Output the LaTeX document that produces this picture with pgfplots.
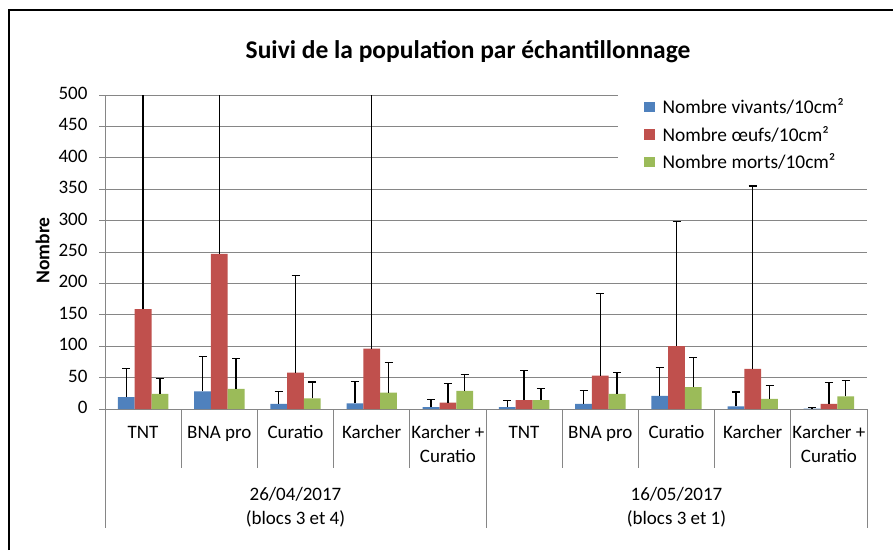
\documentclass[border=0pt]{standalone}
\usepackage{fontspec}
\setmainfont{Carlito}
\usepackage{pgfplots}
\usepackage{pgfplotstable}
\pgfplotsset{compat=1.18}
\definecolor{cblue}{RGB}{79,129,189}
\definecolor{cred}{RGB}{192,80,77}
\definecolor{cgreen}{RGB}{155,187,89}
\definecolor{gridgray}{RGB}{134,134,134}

\pgfplotstableread{
x v e
0 19 45
1 28 55
2 8 20
3 9 35
4 3 12
5 3 11
6 8 21
7 21 45
8 4 23
9 0.5 1.5
}\vivants
\pgfplotstableread{
x v e
0 159 600
1 247 600
2 58 154
3 96 600
4 10 30
5 14 47
6 53 131
7 100 198
8 64 291
9 8 34
}\oeufs
\pgfplotstableread{
x v e
0 24 24
1 32 48
2 17 26
3 26 48
4 29 26
5 14 19
6 24 34
7 35 47
8 16 22
9 20 25
}\morts

\pgfplotsset{errstyle/.style={draw=none,
    error bars/y dir=plus, error bars/y explicit,
    error bars/error bar style={draw=black, line width=1.5pt, solid},
    error bars/error mark options={rotate=90, draw=black, mark size=4pt, line width=1.2pt}}}

\begin{document}
\begin{tikzpicture}
\useasboundingbox (0,0) rectangle (893pt,550pt);
\fill[white] (0,0) rectangle (893pt,550pt);
\draw[line width=2pt] (9pt,0) -- (9pt,540pt) -- (893pt,540pt);
\node[font=\fontsize{25.5}{30}\selectfont\bfseries] at (468pt,498pt) {Suivi de la population par échantillonnage};
\begin{axis}[
  at={(105pt,141pt)}, anchor=south west,
  scale only axis, width=762pt, height=314pt,
  xmin=-0.5, xmax=9.5, ymin=0, ymax=500,
  ytick={0,50,...,500},
  xtick={0,...,9},
  xticklabels={TNT,BNA pro,Curatio,Karcher,{Karcher +\\Curatio},TNT,BNA pro,Curatio,Karcher,{Karcher +\\Curatio}},
  typeset ticklabels with strut,
  x tick label style={align=center, anchor=north, yshift=-3pt, font=\fontsize{19}{24}\selectfont},
  major x tick style={draw=none},
  y tick label style={font=\fontsize{19}{22}\selectfont, xshift=-8pt},
  /pgf/number format/assume math mode=true,
  axis x line*=bottom, axis y line*=left,
  axis line style={gridgray, line width=0.8pt},
  ymajorgrids, major grid style={gridgray, line width=0.8pt},
  tick align=outside, major tick length=6pt, ytick style={draw=gridgray, line width=0.8pt},
  ybar=0pt, bar width=16.8pt,
  clip mode=individual,
  ylabel={Nombre},
  ylabel style={font=\fontsize{19.5}{22}\selectfont\bfseries, at={(axis description cs:-0.082,0.505)}, anchor=center},
  legend style={draw=none, fill=white, at={(rel axis cs:0.673,1.004)}, anchor=north west,
    font=\fontsize{19.4}{22}\selectfont, row sep=7pt, inner xsep=26pt, inner ysep=3pt},
  legend cell align=left,
  legend image code/.code={\path[#1] (0pt,-5pt) rectangle (10.5pt,5.5pt); \path (16.5pt,0pt);},
]
\addplot[fill=cblue, errstyle] table[x=x, y=v, y error=e] {\vivants};
\addplot[fill=cred, errstyle] table[x=x, y=v, y error=e] {\oeufs};
\addplot[fill=cgreen, errstyle] table[x=x, y=v, y error=e] {\morts};
\legend{Nombre vivants/10cm², Nombre œufs/10cm², Nombre morts/10cm²}
\pgfplotsinvokeforeach{0.5,1.5,2.5,3.5,5.5,6.5,7.5,8.5}{
  \draw[gridgray, line width=0.8pt] (axis cs:#1,0) -- ++(0pt,-59pt);
}
\pgfplotsinvokeforeach{-0.5,4.5,9.5}{
  \draw[gridgray, line width=0.8pt] (axis cs:#1,0) -- ++(0pt,-119pt);
}
\node[align=center, font=\fontsize{19}{23.5}\selectfont, yshift=-98pt] at (axis cs:2,0) {26/04/2017\\(blocs 3 et 4)};
\node[align=center, font=\fontsize{19}{23.5}\selectfont, yshift=-98pt] at (axis cs:7,0) {16/05/2017\\(blocs 3 et 1)};
\end{axis}
\end{tikzpicture}
\end{document}
